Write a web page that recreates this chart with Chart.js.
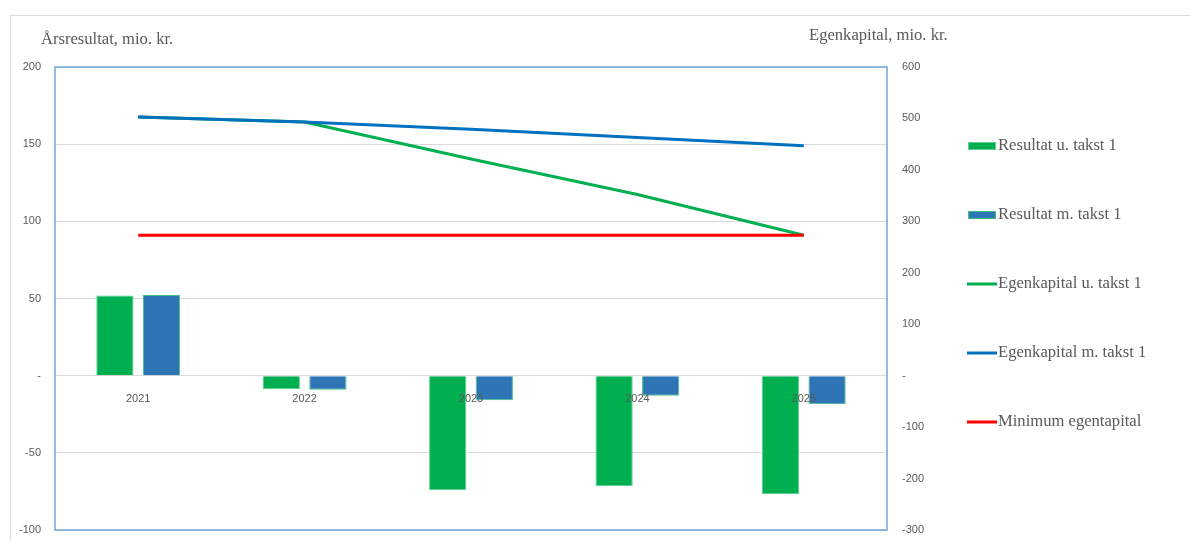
<!DOCTYPE html>
<html>
<head>
<meta charset="utf-8">
<script src="https://cdn.jsdelivr.net/npm/chart.js@4.4.1/dist/chart.umd.min.js"></script>
<style>
  html, body { margin: 0; padding: 0; background: #fff; }
  #wrap { position: relative; width: 1190px; height: 541px; }
</style>
</head>
<body>
<div id="wrap"><canvas id="chart" width="1190" height="541"></canvas></div>
<script>
// Data
const years = ['2021', '2022', '2023', '2024', '2025'];
const resultatUTakst = [52, -8.6, -74.3, -71.5, -76.9];
const resultatMTakst = [52.3, -9.2, -16, -13, -18.5];
const egenkapitalUTakst = [503, 493, 421, 352, 273];
const egenkapitalMTakst = [503, 493, 479, 463, 447];
const minimumEgenkapital = [273, 273, 273, 273, 273];

const leftTitle = 'Årsresultat, mio. kr.';
const rightTitle = 'Egenkapital, mio. kr.';

const GREY = '#595959';
const tickFont = { family: 'Liberation Sans', size: 11 };

function dashZero(value) {
    return value === 0 ? '-' : value;
}

// frame, plot border, axis titles and the legend
const decorPlugin = {
    id: 'decor',
    beforeDraw(chart) {
        const ctx = chart.ctx;
        ctx.save();
        ctx.strokeStyle = '#D9D9D9';
        ctx.lineWidth = 1;
        ctx.beginPath();
        ctx.moveTo(10.5, 541);
        ctx.lineTo(10.5, 15.5);
        ctx.lineTo(1190, 15.5);
        ctx.stroke();
        ctx.restore();
    },
    afterDraw(chart) {
        const ctx = chart.ctx;
        const a = chart.chartArea;
        ctx.save();
        ctx.strokeStyle = '#6FA6DB';
        ctx.lineWidth = 1.5;
        ctx.strokeRect(a.left, a.top, a.right - a.left, a.bottom - a.top);

        ctx.fillStyle = GREY;
        ctx.font = '16.6px "Liberation Serif"';
        ctx.textBaseline = 'middle';
        ctx.textAlign = 'left';
        ctx.fillText(leftTitle, 41, 40);
        ctx.fillText(rightTitle, 809, 36);

        // legend on the right
        const items = [0, 1, 2, 3, 4].map(i => chart.data.datasets[i]);
        items.forEach((ds, i) => {
            const y = 146 + i * 69;
            if (ds.type === 'bar') {
                ctx.fillStyle = ds.borderColor;
                ctx.fillRect(968, y - 4, 28, 8);
                ctx.fillStyle = ds.backgroundColor;
                ctx.fillRect(969, y - 3, 26, 6);
            } else {
                ctx.strokeStyle = ds.borderColor;
                ctx.lineWidth = 3;
                ctx.beginPath();
                ctx.moveTo(967, y);
                ctx.lineTo(997, y);
                ctx.stroke();
            }
            ctx.fillStyle = GREY;
            ctx.fillText(ds.label, 998, y);
        });
        ctx.restore();
    }
};

function fixWidth(w) {
    return function(scale) {
        scale.width = w;
        scale.paddingTop = 0;
        scale.paddingBottom = 0;
    };
}

new Chart(document.getElementById('chart'), {
    data: {
        labels: years,
        datasets: [
            {
                type: 'bar',
                label: 'Resultat u. takst 1',
                data: resultatUTakst,
                backgroundColor: '#00B050',
                borderColor: '#5CD08F',
                borderWidth: 1,
                yAxisID: 'y',
                order: 2,
                barPercentage: 0.8,
                categoryPercentage: 0.56
            },
            {
                type: 'bar',
                label: 'Resultat m. takst 1',
                data: resultatMTakst,
                backgroundColor: '#2E75B6',
                borderColor: '#3DC47E',
                borderWidth: 1,
                yAxisID: 'y',
                order: 2,
                barPercentage: 0.8,
                categoryPercentage: 0.56
            },
            {
                type: 'line',
                label: 'Egenkapital u. takst 1',
                data: egenkapitalUTakst,
                borderColor: '#00B050',
                borderWidth: 3,
                pointRadius: 0,
                yAxisID: 'y1',
                order: 1
            },
            {
                type: 'line',
                label: 'Egenkapital m. takst 1',
                data: egenkapitalMTakst,
                borderColor: '#0070C0',
                borderWidth: 3,
                pointRadius: 0,
                yAxisID: 'y1',
                order: 0
            },
            {
                type: 'line',
                label: 'Minimum egentapital',
                data: minimumEgenkapital,
                borderColor: '#FF0000',
                borderWidth: 3,
                pointRadius: 0,
                yAxisID: 'y1',
                order: 0
            }
        ]
    },
    options: {
        responsive: false,
        animation: false,
        layout: {
            padding: { left: 0, right: 243, top: 67, bottom: 11 }
        },
        plugins: {
            legend: { display: false },
            tooltip: { enabled: false }
        },
        scales: {
            x: {
                position: { y: 0 },
                grid: { display: false },
                border: { display: false },
                afterFit(scale) { scale.height = 0; },
                ticks: {
                    z: 1,
                    color: GREY,
                    font: tickFont,
                    padding: 9,
                    maxRotation: 0
                }
            },
            y: {
                position: 'left',
                min: -100,
                max: 200,
                afterFit: fixWidth(55),
                grid: { color: '#D9D9D9', drawTicks: false },
                border: { display: false },
                ticks: {
                    stepSize: 50,
                    color: GREY,
                    font: tickFont,
                    padding: 14,
                    callback: dashZero
                }
            },
            y1: {
                position: 'right',
                min: -300,
                max: 600,
                afterFit: fixWidth(60),
                grid: { display: false, drawTicks: false },
                border: { display: false },
                ticks: {
                    stepSize: 100,
                    color: GREY,
                    font: tickFont,
                    padding: 15,
                    callback: dashZero
                }
            }
        }
    },
    plugins: [decorPlugin]
});
</script>
</body>
</html>
